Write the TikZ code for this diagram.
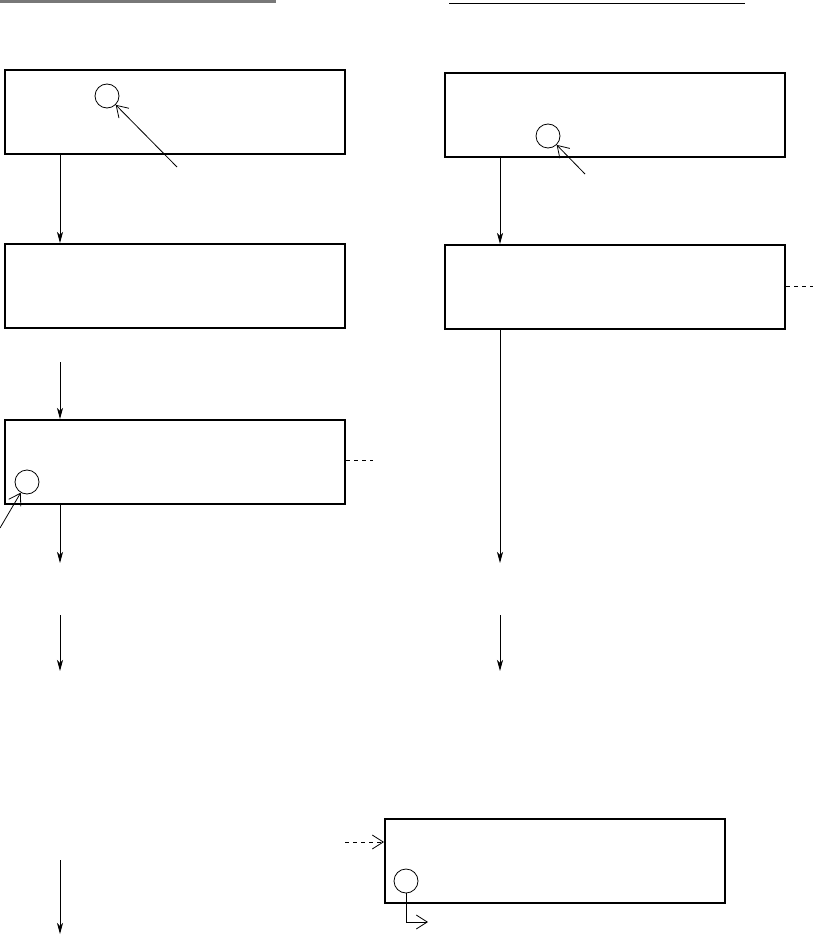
\documentclass[tikz,border=0pt]{standalone}
\usepackage{xcolor}
\usepackage{tikz}
\usetikzlibrary{arrows.meta, positioning, calc}
\definecolor{RuleGrey}{RGB}{120, 120, 120}

\begin{document}
\begin{tikzpicture}[x=1pt, y=-1pt,
    stagebox/.style={draw=black, line width=2pt, fill=none, inner sep=0pt,
                     minimum width=340pt, minimum height=84pt},
    pin/.style={circle, draw=black, line width=0.8pt, inner sep=0pt, minimum size=24pt},
    flow/.style={line width=0.8pt, -{Stealth[length=11pt, width=6pt, inset=3pt]}},
    ptr/.style={line width=0.8pt, -{Straight Barb[length=11pt, width=14pt]}},
    feed/.style={line width=0.8pt, dash pattern=on 4pt off 4pt}]
  \useasboundingbox (0,0) rectangle (813,936);

  \draw[RuleGrey, line width=2.5pt] (0,1.5) -- (276,1.5);
  \draw[black, line width=1.5pt] (449,3.5) -- (745,3.5);

  \coordinate (colL) at (60,0);
  \coordinate (colR) at (500,0);

  \node[stagebox] (b1) at (175,112) {};
  \node[stagebox] (b2) at (175,286) {};
  \node[stagebox] (b3) at (175,462) {};
  \node[stagebox] (b4) at (615,115) {};
  \node[stagebox] (b5) at (615,287) {};
  \node[stagebox] (b6) at (555,860.5) {};

  \node[pin] (c1) at (107,96) {};
  \node[pin] (c3) at (27,482) {};
  \node[pin] (c4) at (548,136) {};
  \node[pin] (c6) at (406,881) {};

  \coordinate (s2) at (60,362);
  \coordinate (e3) at (60,563);
  \coordinate (s4) at (60,615);
  \coordinate (e4) at (60,671);
  \coordinate (s5) at (60,860);
  \coordinate (e5) at (60,934);
  \coordinate (e7) at (500,563);
  \coordinate (s8) at (500,615);
  \coordinate (e8) at (500,671);

  \draw[flow] (b1.south -| colL) -- (b2.north -| colL);
  \draw[flow] (s2) -- (b3.north -| colL);
  \draw[flow] (b3.south -| colL) -- (e3);
  \draw[flow] (s4) -- (e4);
  \draw[flow] (s5) -- (e5);
  \draw[flow] (b4.south -| colR) -- (b5.north -| colR);
  \draw[flow] (b5.south -| colR) -- (e7);
  \draw[flow] (s8) -- (e8);

  \coordinate (d3) at (373,460);
  \coordinate (d5) at (813,286);
  \coordinate (in6) at (345,842);
  \draw[feed] (b3.east |- d3) -- (d3);
  \draw[feed] (b5.east |- d5) -- (d5);
  \draw[feed, ptr] (in6) -- (in6 -| b6.west);

  \coordinate (p1) at (177,167);
  \coordinate (p3) at (0,528);
  \coordinate (p4) at (585,174);
  \coordinate (o6) at (428,922);
  \draw[ptr] (p1) -- (c1);
  \draw[ptr] (p3) -- (c3);
  \draw[ptr] (p4) -- (c4);
  \draw[ptr] (c6.south) |- (o6);
\end{tikzpicture}
\end{document}
